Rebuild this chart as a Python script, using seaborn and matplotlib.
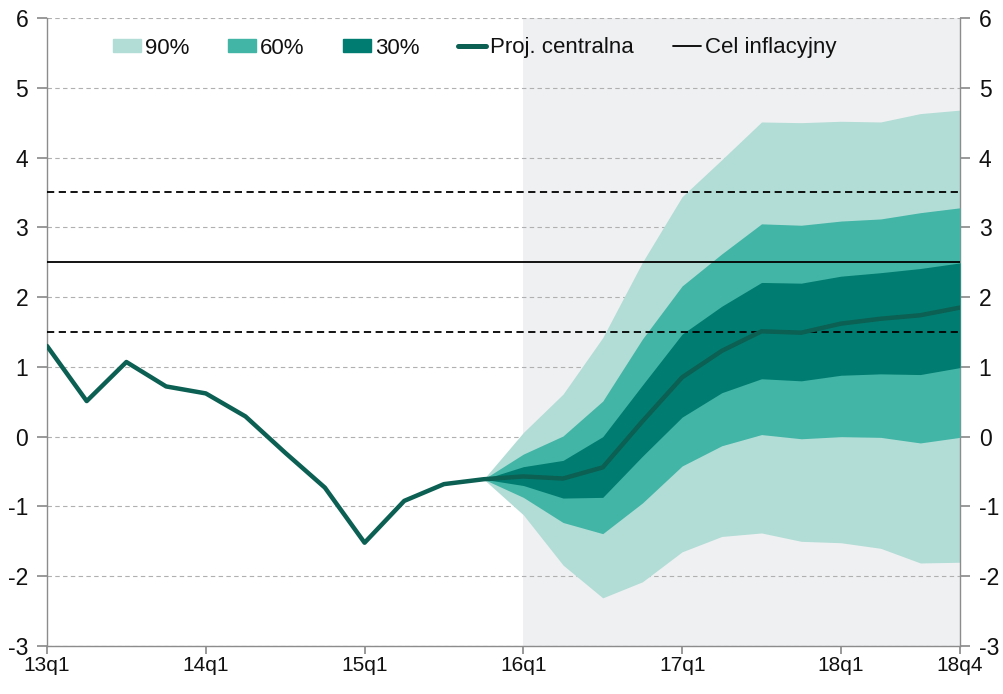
import matplotlib
matplotlib.use("Agg")
import matplotlib.pyplot as plt
import matplotlib.patches as mpatches
import matplotlib.lines as mlines
import seaborn as sns
import pandas as pd

quarters = ["13q1", "13q2", "13q3", "13q4", "14q1", "14q2", "14q3", "14q4",
            "15q1", "15q2", "15q3", "15q4", "16q1", "16q2", "16q3", "16q4",
            "17q1", "17q2", "17q3", "17q4", "18q1", "18q2", "18q3", "18q4"]
central = [1.30, 0.51, 1.07, 0.72, 0.62, 0.29, -0.23, -0.73,
           -1.52, -0.92, -0.68, -0.61, -0.57, -0.60, -0.44, 0.22,
           0.85, 1.23, 1.51, 1.49, 1.62, 1.69, 1.74, 1.85]
# fan chart bands, from 15q4 to 18q4
fan_quarters = quarters[11:]
upper90 = [-0.61, 0.06, 0.61, 1.42, 2.50, 3.44, 3.97, 4.51, 4.50, 4.52, 4.51, 4.63, 4.68]
lower90 = [-0.61, -1.12, -1.84, -2.31, -2.08, -1.65, -1.43, -1.38, -1.50, -1.52, -1.60, -1.81, -1.80]
upper60 = [-0.61, -0.25, 0.01, 0.51, 1.40, 2.16, 2.62, 3.05, 3.03, 3.09, 3.12, 3.21, 3.28]
lower60 = [-0.61, -0.87, -1.23, -1.39, -0.95, -0.42, -0.13, 0.03, -0.03, 0.00, -0.01, -0.09, -0.01]
upper30 = [-0.61, -0.43, -0.34, 0.00, 0.74, 1.47, 1.87, 2.21, 2.20, 2.30, 2.35, 2.41, 2.49]
lower30 = [-0.61, -0.70, -0.88, -0.87, -0.28, 0.28, 0.63, 0.83, 0.80, 0.88, 0.90, 0.89, 0.99]
target = 2.5
tolerance = [1.5, 3.5]
tick_labels = ["13q1", "14q1", "15q1", "16q1", "17q1", "18q1", "18q4"]
y_ticks = [-3, -2, -1, 0, 1, 2, 3, 4, 5, 6]
legend_labels = ["90%", "60%", "30%", "Proj. centralna", "Cel inflacyjny"]

c90, c60, c30 = "#b2ddd6", "#42b5a7", "#007d70"
c_line = "#0b5f53"
c_shade = "#eff0f2"

sns.set_theme(style="white")
plt.rcParams["font.family"] = ["Liberation Sans", "DejaVu Sans"]
plt.rcParams["axes.unicode_minus"] = False
plt.rcParams["text.color"] = "#111111"

fig = plt.figure(figsize=(10.04, 6.94), dpi=100)
ax = fig.add_axes([47 / 1004, 1 - 646 / 694, (960 - 47) / 1004, (646 - 18) / 694])

xpos = {q: i for i, q in enumerate(quarters)}
fx = [xpos[q] for q in fan_quarters]

ax.axvspan(xpos["16q1"], xpos["18q4"], color=c_shade, zorder=0, lw=0)
for yv in y_ticks:
    ax.axhline(yv, color="#b0b0b0", lw=0.8, ls=(0, (4, 3)), zorder=1)

ax.fill_between(fx, lower90, upper90, color=c90, lw=0, zorder=2)
ax.fill_between(fx, lower60, upper60, color=c60, lw=0, zorder=3)
ax.fill_between(fx, lower30, upper30, color=c30, lw=0, zorder=4)

ax.axhline(target, color="black", lw=1.3, zorder=5)
for t in tolerance:
    ax.axhline(t, color="black", lw=1.3, ls=(0, (4, 2.5)), zorder=5)

df = pd.DataFrame({"x": [xpos[q] for q in quarters], "v": central})
sns.lineplot(data=df, x="x", y="v", ax=ax, color=c_line, lw=3.2, zorder=6)

ax.set_xlim(0, 23)
ax.set_ylim(-3, 6)
ax.set_xticks([xpos[q] for q in tick_labels])
ax.set_xticklabels(tick_labels)
ax.set_yticks(y_ticks)
ax.set_xlabel("")
ax.set_ylabel("")

for s in ["left", "right", "bottom"]:
    ax.spines[s].set_color("#8c8c8c")
    ax.spines[s].set_linewidth(1.0)
ax.spines["top"].set_visible(False)

ax.tick_params(axis="x", which="both", bottom=True, direction="out", length=6,
               color="#8c8c8c", labelsize=15, pad=1, labelcolor="#111111")
ax.tick_params(axis="y", which="both", left=True, right=True, labelright=True,
               direction="out", length=7, color="#8c8c8c", labelsize=16.5, pad=6.5,
               labelcolor="#111111")

handles = [
    mpatches.Patch(color=c90, label=legend_labels[0]),
    mpatches.Patch(color=c60, label=legend_labels[1]),
    mpatches.Patch(color=c30, label=legend_labels[2]),
    mlines.Line2D([], [], color=c_line, lw=3.6, label=legend_labels[3]),
    mlines.Line2D([], [], color="black", lw=1.3, label=legend_labels[4]),
]
ax.legend(handles=handles, loc="center left",
          bbox_to_anchor=((113 - 47) / 913, (646 - 48) / 628),
          ncol=5, frameon=False, fontsize=16, handlelength=1.25, handleheight=0.5,
          handletextpad=0.18, columnspacing=1.75, borderaxespad=0, borderpad=0)

fig.savefig("out.png", dpi=100)
